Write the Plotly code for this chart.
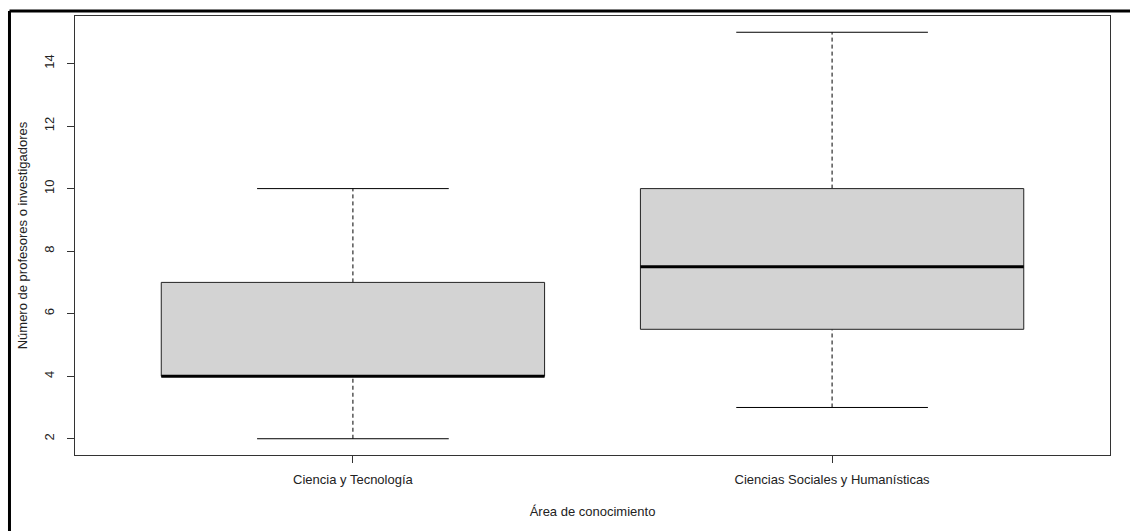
import plotly.graph_objects as go

categories = ["Ciencia y Tecnología", "Ciencias Sociales y Humanísticas"]
lower_whisker = [2, 3]
q1 = [4, 5.5]
median = [4, 7.5]
q3 = [7, 10]
upper_whisker = [10, 15]
y_ticks = [2, 4, 6, 8, 10, 12, 14]

box_half = 0.4
cap_half = 0.2
font = "Liberation Sans, Arial, sans-serif"

fig = go.Figure()
for i, cat in enumerate(categories):
    x = i + 1
    # whiskers (dashed)
    fig.add_trace(go.Scatter(x=[x, x, None, x, x],
                             y=[lower_whisker[i], q1[i], None, q3[i], upper_whisker[i]],
                             mode="lines", line=dict(color="black", width=1, dash="4px,3px"),
                             hoverinfo="skip", showlegend=False))
    # caps
    fig.add_trace(go.Scatter(x=[x - cap_half, x + cap_half, None, x - cap_half, x + cap_half],
                             y=[lower_whisker[i], lower_whisker[i], None, upper_whisker[i], upper_whisker[i]],
                             mode="lines", line=dict(color="black", width=1),
                             hoverinfo="skip", showlegend=False))
    # box
    fig.add_trace(go.Scatter(x=[x - box_half, x + box_half, x + box_half, x - box_half, x - box_half],
                             y=[q1[i], q1[i], q3[i], q3[i], q1[i]],
                             mode="lines", fill="toself", fillcolor="#d3d3d3",
                             line=dict(color="#222222", width=1),
                             hoverinfo="skip", showlegend=False, name=cat))
    # median
    fig.add_trace(go.Scatter(x=[x - box_half, x + box_half], y=[median[i], median[i]],
                             mode="lines", line=dict(color="black", width=3),
                             hoverinfo="skip", showlegend=False))

fig.update_layout(
    width=1130, height=531,
    margin=dict(l=75, r=20, t=16, b=76),
    paper_bgcolor="white", plot_bgcolor="white",
    font=dict(family=font, size=11, color="#222222"),
    xaxis=dict(range=[0.42, 2.58], tickvals=[1, 2], ticktext=categories,
               showgrid=False, zeroline=False, showline=True, mirror=True,
               linecolor="#333333", linewidth=1, ticks="outside", ticklen=7,
               tickcolor="#333333", tickfont=dict(size=13), ticklabelstandoff=5,
               title=dict(text="Área de conocimiento", standoff=21)),
    yaxis=dict(range=[1.48, 15.52], tickvals=y_ticks, tickangle=-90,
               showgrid=False, zeroline=False, showline=True, mirror=True,
               linecolor="#333333", linewidth=1, ticks="outside", ticklen=7,
               tickcolor="#333333", tickfont=dict(size=13), ticklabelstandoff=8,
               title=dict(text="Número de profesores o investigadores", standoff=11)),
    shapes=[
        dict(type="line", xref="paper", yref="paper", x0=-0.0633, x1=1.1, y0=1.0114, y1=1.0114,
             line=dict(color="black", width=3)),
        dict(type="line", xref="paper", yref="paper", x0=-0.0633, x1=-0.0633, y0=1.0114, y1=-0.2,
             line=dict(color="black", width=3)),
    ],
)

fig.write_html("out.html")
